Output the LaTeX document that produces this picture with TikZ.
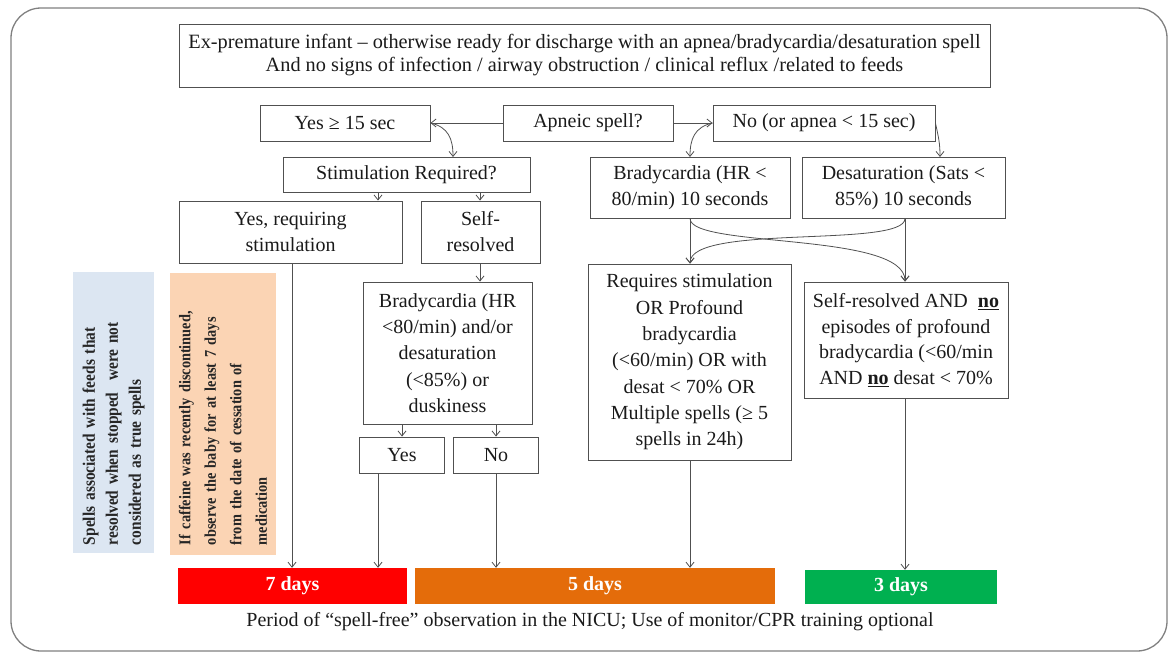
\documentclass[tikz,border=0pt]{standalone}
\usepackage{fontspec}
\setmainfont{Liberation Serif}
\newfontfamily\notefont[FakeStretch=0.88]{Liberation Serif}
\usetikzlibrary{arrows.meta}
\definecolor{boxgray}{HTML}{505050}
\definecolor{linegray}{HTML}{505050}
\definecolor{txt}{HTML}{1A1A1A}
\definecolor{notetxt}{HTML}{262626}
\definecolor{noteblue}{HTML}{DCE6F2}
\definecolor{noteorange}{HTML}{FBD4B4}
\definecolor{barred}{HTML}{FF0000}
\definecolor{barorange}{HTML}{E46C0A}
\definecolor{bargreen}{HTML}{00B050}
\begin{document}
\begin{tikzpicture}[x=1pt,y=-1pt,
  box/.style={draw=boxgray, line width=0.9pt, align=center, inner sep=0pt, text=txt, font=\fontsize{20}{26}\selectfont},
  arr/.style={draw=linegray, line width=0.8pt, -{Straight Barb[length=5pt,width=8pt]}},
  bar/.style={inner sep=0pt, text=white, font=\fontsize{20}{24}\selectfont\bfseries},
  note/.style={rotate=90, inner xsep=8pt, inner ysep=0pt, align=left, text width=265pt, minimum width=281pt, text=notetxt}
]
\useasboundingbox (0,0) rectangle (1170,654);
\draw[draw=gray, line width=1.3pt, rounded corners=30pt] (11,8) rectangle (1167,651);

% top
\node[box, minimum width=811pt, minimum height=63pt, font=\fontsize{20.3}{23}\selectfont] (top) at (584.5,55.5)
 {Ex-premature infant -- otherwise ready for discharge with an apnea/bradycardia/desaturation spell\\And no signs of infection / airway obstruction / clinical reflux /related to feeds};

\node[box, minimum width=170pt, minimum height=36pt] (yes15) at (345,123) {Yes ≥ 15 sec};
\node[box, minimum width=170pt, minimum height=36pt] (apneic) at (588,123) {Apneic spell?};
\node[box, minimum width=222pt, minimum height=36pt] (no) at (824,123) {No (or apnea < 15 sec)};

\node[box, minimum width=247pt, minimum height=35pt] (stim) at (406.5,174.5) {Stimulation Required?};
\node[box, minimum width=200pt, minimum height=61pt] (brady1) at (690,187.5) {Bradycardia (HR <\\80/min) 10 seconds};
\node[box, minimum width=203pt, minimum height=61pt] (desat) at (903.5,187.5) {Desaturation (Sats <\\85\%) 10 seconds};

\node[box, minimum width=223pt, minimum height=62pt] (yesreq) at (290.5,232) {Yes, requiring\\stimulation};
\node[box, minimum width=119pt, minimum height=62pt] (selfres) at (480.5,232) {Self-\\resolved};

\node[box, minimum width=169pt, minimum height=142pt, font=\fontsize{20}{26.3}\selectfont] (brady2) at (447.5,353)
 {Bradycardia (HR\\<80/min) and/or\\desaturation\\(<85\%) or\\duskiness};
\node[box, minimum width=85pt, minimum height=36pt] (yesb) at (402,455) {Yes};
\node[box, minimum width=85pt, minimum height=36pt] (nob) at (496,455) {No};

\node[box, minimum width=203pt, minimum height=196pt, font=\fontsize{20}{26.3}\selectfont] (requires) at (689.5,362)
 {Requires stimulation\\OR Profound\\bradycardia\\(<60/min) OR with\\desat < 70\% OR\\Multiple spells (≥ 5\\spells in 24h)};
\node[box, minimum width=204pt, minimum height=116pt, font=\fontsize{20}{25.5}\selectfont] (selfres2) at (906,340)
 {Self-resolved AND~~\underline{\textbf{no}}\\episodes of profound\\bradycardia (<60/min\\AND \underline{\textbf{no}} desat < 70\%};

% notes
\node[note, fill=noteblue, minimum height=81pt, font=\notefont\bfseries\fontsize{17.5}{23}\selectfont] (note1) at (113.5,412.5)
 {Spells associated with feeds that\\resolved when stopped~~were not\\considered as true spells};
\node[note, fill=noteorange, minimum height=106pt, inner xsep=10pt, text width=262pt, font=\notefont\bfseries\fontsize{16.3}{25.5}\selectfont] (note2) at (223,414)
 {If caffeine was recently discontinued,\\observe the baby for at least 7 days\\from the date of cessation of\\medication};

% bars
\node[bar, fill=barred, minimum width=229pt, minimum height=36pt] (bar7) at (292.5,586) {7 days};
\node[bar, fill=barorange, minimum width=360pt, minimum height=36pt] (bar5) at (595,586) {5 days};
\node[bar, fill=bargreen, minimum width=192pt, minimum height=34pt] (bar3) at (901,587) {3 days};

\node[text=txt, font=\fontsize{20}{24}\selectfont, inner sep=0pt] (caption) at (590,622)
 {Period of “spell-free” observation in the NICU; Use of monitor/CPR training optional};

% connectors
\draw[arr] (apneic.west) -- (yes15.east);
\draw[arr] (apneic.east) -- (no.west);
\coordinate (stimin) at (453,157);
\coordinate (bradyin) at (690,157);
\coordinate (desatin) at (940,157);
\draw[arr] (yes15.east) .. controls +(18,4) and +(0,-18) .. (stimin);
\draw[arr] (no.west) .. controls +(-18,4) and +(0,-18) .. (bradyin);
\draw[arr] (no.east) .. controls +(3,14) and +(0,-14) .. (desatin);

\draw[arr] (stim.south -| 378,0) -- (yesreq.north -| 378,0);
\draw[arr] (stim.south -| 480,0) -- (selfres.north -| 480,0);
\draw[arr] (selfres.south -| 480,0) -- (brady2.north -| 480,0);
\draw[arr] (brady2.south -| yesb.north) -- (yesb.north);
\draw[arr] (brady2.south -| nob.north) -- (nob.north);

\draw[arr] (brady1.south) -- (requires.north -| brady1.south);
\draw[arr] (desat.south -| 905,0) -- (selfres2.north -| 905,0);
\draw[arr] (brady1.south) .. controls +(0,30) and +(0,-50) .. (selfres2.north -| 905,0);
\draw[arr] (desat.south -| 905,0) .. controls +(0,30) and +(0,-40) .. (requires.north -| brady1.south);

\draw[arr] (yesreq.south -| 292,0) -- (bar7.north -| 292,0);
\draw[arr] (yesb.south -| 378,0) -- (bar7.north -| 378,0);
\draw[arr] (nob.south -| 496,0) -- (bar5.north -| 496,0);
\draw[arr] (requires.south -| brady1.south) -- (bar5.north -| brady1.south);
\draw[arr] (selfres2.south -| 905,0) -- (bar3.north -| 905,0);
\end{tikzpicture}
\end{document}
